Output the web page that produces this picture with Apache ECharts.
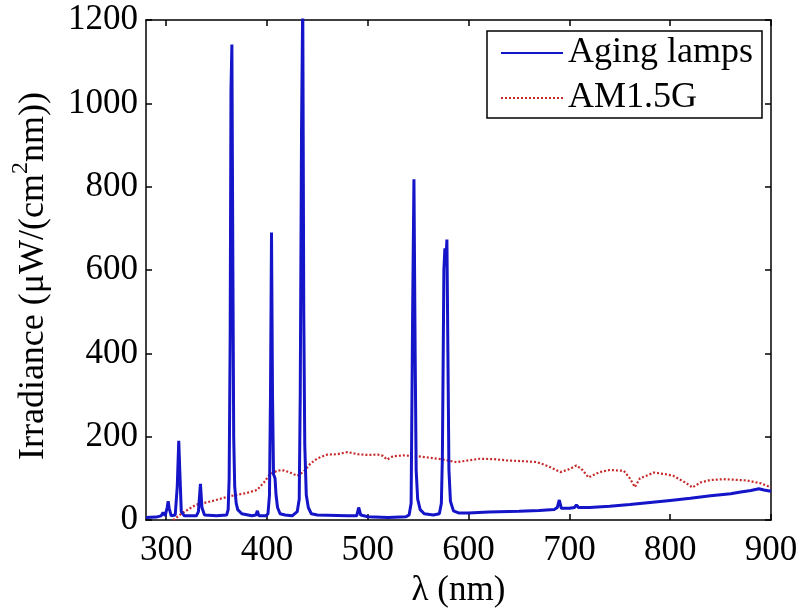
<!DOCTYPE html>
<html><head><meta charset="utf-8">
<script src="https://cdn.jsdelivr.net/npm/echarts@6/dist/echarts.min.js"></script>
<style>html,body{margin:0;padding:0;background:#fff}#c{width:802px;height:608px}</style>
</head><body><div id="c"></div>
<script>
const xTicks = [300, 400, 500, 600, 700, 800, 900];
const lampWl = [280,290,295,297,299,301,302,303,305,309,311,312.5,313.5,315,318,330,332,334,335.5,338,350,360,361.5,362.5,363.5,364.3,365.2,366.2,367,368,369.5,371,375,385,389,390.5,392,399,401,402.5,403.5,404.5,405.5,406.5,408,409,410.5,413,418,425,430,432,433,434.3,435.5,436.5,437.5,439,441,444,450,480,489,491,493,500,520,538,541,543,544.5,545.8,547,548,549.5,552,556,565,571,573,574,575.5,576.5,577.5,578.5,579.5,580.5,582,585,590,600,620,650,670,685,688,690,692,700,705,707,709,720,740,760,780,800,820,840,860,870,880,888,893,900];
const lampVal = [6,7,10,18,10,30,45,28,10,12,80,190,120,20,10,10,20,87,30,12,10,12,25,100,440,1030,1141,600,200,80,40,25,15,10,12,22,10,10,15,60,300,690,300,110,100,60,30,15,12,10,20,50,300,940,1250,500,180,60,30,15,12,10,10,30,12,8,6,8,12,40,500,818,400,120,50,25,15,12,15,40,150,600,652,620,673,400,120,45,22,17,17,19,21,23,25,30,48,28,28,30,36,30,30,33,37,42,47,52,58,63,67,71,75,72,69];
const amWl = [307,315,325,330,345,363,380,390,397,403,410,415,422,430,436,443,450,460,470,480,490,500,510,515,519,525,535,550,560,572,588,600,611,625,638,655,668,680,691,700,707,713,719,730,740,754,760,765,770,784,795,803,815,822,830,840,853,876,890,898,900];
const amVal = [0,15,30,37,45,57,65,72,90,110,118,120,115,106,115,135,148,157,158,163,158,156,157,154,145,153,155,153,150,146,139,143,147,146,143,141,139,128,115,122,131,120,102,115,120,118,100,79,100,114,110,106,90,78,90,96,98,95,88,80,78];

const lamp = lampWl.map((w, i) => [w, lampVal[i]]);
const am = amWl.map((w, i) => [w, amVal[i]]);
const font = 'Liberation Serif';
const chart = echarts.init(document.getElementById('c'));
const axLine = {show: true, onZero: false, lineStyle: {color: '#000', width: 1.5}};
const tick = {color: '#000', width: 1.5};
chart.setOption({
  animation: false,
  textStyle: {fontFamily: font},
  grid: {left: 146, right: 31, top: 20, bottom: 88, containLabel: false, outerBoundsMode: 'none'},
  legend: {
    left: 487, top: 31, orient: 'vertical',
    padding: [4, 9, 2, 13], itemGap: 9, itemWidth: 62, itemHeight: 20,
    borderColor: '#000', borderWidth: 1.5, backgroundColor: '#fff',
    itemStyle: {opacity: 0},
    textStyle: {fontFamily: font, fontSize: 36, color: '#000'},
    data: ['Aging lamps', 'AM1.5G']
  },
  xAxis: [{
    type: 'value', min: 280, max: 900, position: 'bottom',
    name: 'λ (nm)', nameLocation: 'middle', nameGap: 52,
    nameTextStyle: {fontFamily: font, fontSize: 35, color: '#000'},
    axisLine: axLine,
    axisTick: {show: true, inside: true, length: 6, customValues: xTicks, lineStyle: tick},
    axisLabel: {customValues: xTicks, fontFamily: font, fontSize: 35, color: '#000', margin: 13, formatter: v => String(v)},
    splitLine: {show: false}
  }, {
    type: 'value', min: 280, max: 900, position: 'top',
    axisLine: axLine,
    axisTick: {show: true, inside: true, length: 6, customValues: xTicks, lineStyle: tick},
    axisLabel: {show: false}, splitLine: {show: false}
  }],
  yAxis: [{
    type: 'value', min: 0, max: 1200, interval: 200, position: 'left',
    name: 'Irradiance (μW/(cm{sup|2}nm))', nameLocation: 'middle', nameGap: 72, nameRotate: 90,
    nameTextStyle: {fontFamily: font, fontSize: 36, color: '#000', lineHeight: 48, padding: [0, 12, 0, 0],
      rich: {sup: {fontFamily: font, fontSize: 24, color: '#000', verticalAlign: 'top', lineHeight: 48}}},
    axisLine: axLine,
    axisTick: {show: true, inside: true, length: 6, lineStyle: tick},
    axisLabel: {fontFamily: font, fontSize: 35, color: '#000', margin: 8, formatter: v => String(v)},
    splitLine: {show: false}
  }, {
    type: 'value', min: 0, max: 1200, interval: 200, position: 'right',
    axisLine: axLine,
    axisTick: {show: true, inside: true, length: 6, lineStyle: tick},
    axisLabel: {show: false}, splitLine: {show: false}
  }],
  series: [{
    name: 'Aging lamps', type: 'line', data: lamp, symbol: 'none', clip: true,
    lineStyle: {color: '#1414c8', width: 3}, itemStyle: {color: '#1414c8'}, z: 3
  }, {
    name: 'AM1.5G', type: 'line', data: am, symbol: 'none', clip: true,
    lineStyle: {color: '#c62a2a', width: 2.2, type: [2, 2]}, itemStyle: {color: '#c62a2a'}, z: 2
  }]
});
</script></body></html>
